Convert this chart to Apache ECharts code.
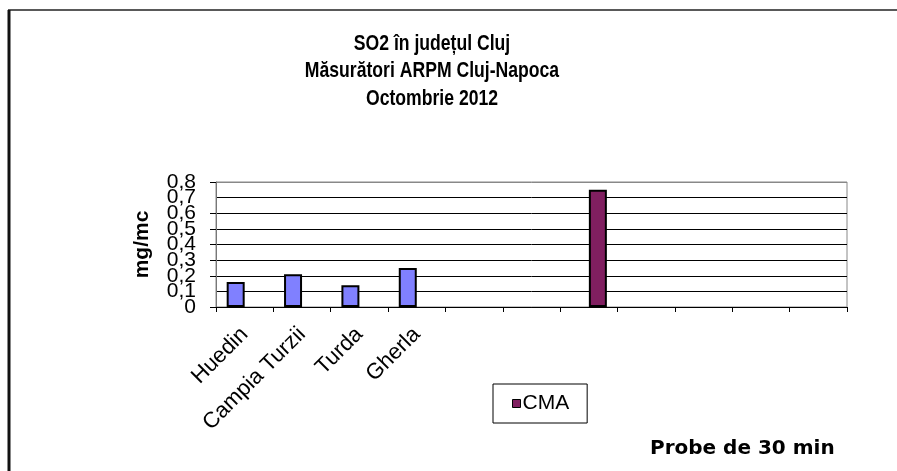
<!DOCTYPE html>
<html>
<head>
<meta charset="utf-8">
<script src="https://cdn.jsdelivr.net/npm/echarts@6/dist/echarts.min.js"></script>
<style>html,body{margin:0;padding:0;background:#fff;}#c{width:897px;height:471px;}</style>
</head>
<body>
<div id="c"></div>
<script>
const categories = ['Huedin', 'Campia Turzii', 'Turda', 'Gherla', '', '', '', '', '', '', ''];
const so2Values = [0.16, 0.21, 0.14, 0.25, null, null, null, null, null, null, null];
const cmaValues = [null, null, null, null, null, null, 0.75, null, null, null, null];
const yTicks = { min: 0, max: 0.8, interval: 0.1 };
const titleLines = ['SO2 în județul Cluj', 'Măsurători ARPM Cluj-Napoca', 'Octombrie 2012'];
const noteText = 'Probe de 30 min';
const yName = 'mg/mc';

const chart = echarts.init(document.getElementById('c'), null, { renderer: 'canvas' });
const FF = '"Liberation Sans", Arial, sans-serif';
const fmt = v => (Math.abs(v) < 1e-9 ? '0' : v.toFixed(1).replace('.', ','));
const yLabelStyle = { margin: 20, fontFamily: FF, fontSize: 21, color: '#000' };
chart.setOption({
  animation: false,
  backgroundColor: '#fff',
  title: [
    { text: noteText, left: 645, top: 434,
      textStyle: { fontFamily: '"DejaVu Sans", sans-serif', fontSize: 20, fontWeight: 'bold', color: '#000' } }
  ],
  legend: {
    data: ['CMA'], left: 493, top: 384, padding: [9, 18, 9, 19],
    borderColor: '#000', borderWidth: 1, icon: 'rect', itemWidth: 8, itemHeight: 8,
    itemStyle: { borderColor: '#000', borderWidth: 1 },
    textStyle: { fontFamily: FF, fontSize: 21, color: '#000', padding: [0, 0, 0, -3] }
  },
  grid: { left: 216, top: 182, right: 50, bottom: 164, show: true, borderColor: '#888', borderWidth: 1 },
  xAxis: {
    type: 'category', data: categories,
    axisLine: { lineStyle: { color: '#000', width: 1 } },
    axisTick: { show: true, length: 5, lineStyle: { color: '#000' } },
    axisLabel: { rotate: 45, margin: 24, interval: 0, fontFamily: FF, fontSize: 22, color: '#000' }
  },
  yAxis: [
    {
      type: 'value', min: yTicks.min, max: yTicks.max, interval: yTicks.interval, position: 'left',
      name: yName, nameLocation: 'middle', nameRotate: 90, nameGap: 63,
      nameTextStyle: { fontFamily: FF, fontSize: 21, fontWeight: 'bold', color: '#000' },
      axisLine: { show: true, lineStyle: { color: '#777', width: 1 } },
      axisTick: { show: true, length: 6, lineStyle: { color: '#000' } },
      axisLabel: Object.assign({ showMinLabel: true, showMaxLabel: true, formatter: fmt }, yLabelStyle),
      splitLine: { show: true, lineStyle: { color: ['#000', '#000', '#000', '#000', '#000', '#000', '#000', '#000', '#888'], width: 1 } }
    },
    {
      type: 'value', min: yTicks.min, max: yTicks.max, interval: yTicks.interval, position: 'left',
      axisLine: { show: false }, axisTick: { show: false }, splitLine: { show: false },
      axisLabel: Object.assign({ showMinLabel: false, showMaxLabel: false,
        formatter: v => (Math.abs(v - 0.1) < 1e-6 || Math.abs(v - 0.7) < 1e-6) ? fmt(v) : '' }, yLabelStyle)
    }
  ],
  series: [
    { name: 'SO2', type: 'bar', data: so2Values, barWidth: 18, barGap: '0%', yAxisIndex: 0,
      itemStyle: { color: '#8080FF', borderColor: '#000', borderWidth: 2 } },
    { name: 'CMA', type: 'bar', data: cmaValues, barWidth: 18, barGap: '0%', yAxisIndex: 0,
      itemStyle: { color: '#801F60', borderColor: '#000', borderWidth: 2 } }
  ],
  graphic: [
    { type: 'line', shape: { x1: 8, y1: 10, x2: 897, y2: 10 }, style: { stroke: '#222', lineWidth: 1.5 } },
    { type: 'line', shape: { x1: 9, y1: 10, x2: 9, y2: 471 }, style: { stroke: '#111', lineWidth: 3 } },
    { type: 'text', x: 432, y: 30, scaleX: 0.8,
      style: { text: titleLines.join('\n'), x: 0, y: 0, textAlign: 'center', textVerticalAlign: 'top',
        font: 'bold 22px "Liberation Sans", Arial, sans-serif', fill: '#000', lineHeight: 27.5 } }
  ]
});
</script>
</body>
</html>
